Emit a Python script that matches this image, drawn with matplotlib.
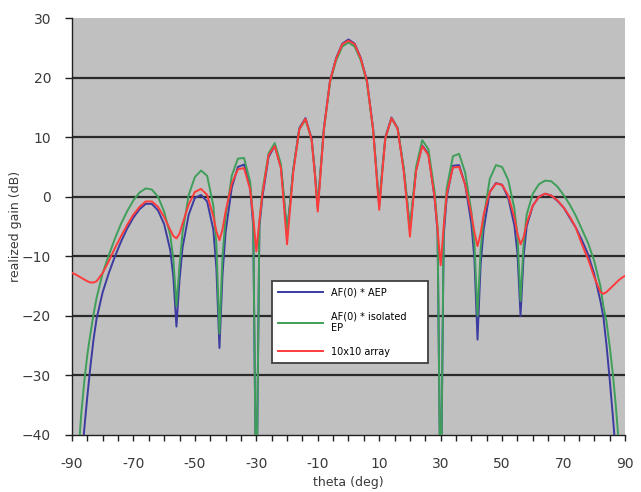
import matplotlib
matplotlib.use("Agg")
import matplotlib.pyplot as plt

# theta grid (deg), shared by all three curves
theta = [-90, -89, -88, -87, -86, -85, -84, -83, -82,
         -80, -78, -76, -74, -72, -70, -68, -66, -64, -62, -60, -58,
         -57, -56, -55, -54,
         -52, -50, -48, -46, -44,
         -43, -42, -41, -40,
         -38, -36, -34, -32,
         -31, -30, -29, -28,
         -26, -24, -22,
         -21, -20, -19, -18,
         -16, -14, -12,
         -11, -10, -9, -8,
         -6, -4, -2, 0, 2, 4, 6, 8,
         9, 10, 11, 12,
         14, 16, 18,
         19, 20, 21, 22,
         24, 26, 28,
         29, 30, 31, 32,
         34, 36, 38, 40,
         41, 42, 43, 44,
         46, 48, 50, 52, 54,
         55, 56, 57, 58,
         60, 62, 64, 66, 68, 70, 72, 74, 76, 78, 80, 82,
         83, 84, 85, 86, 87, 88, 89, 90]

# AF(0) * AEP
gain_aep = [-70, -62, -53, -45.5, -39, -33.5, -28.5, -24, -20.5,
            -16, -12.8, -10, -7.5, -5.3, -3.5, -2.1, -1.2, -1.2, -2.3, -4.6, -9,
            -13.5, -21.8, -14, -8.5,
            -3, -0.2, 0.3, -0.8, -5.5,
            -12, -25.4, -13, -6,
            1.5, 5.0, 5.4, 1.5,
            -5, -55, -5, 0,
            6.7, 8.5, 5,
            -0.5, -6, -1, 4.5,
            11.5, 13.2, 9.8,
            4.5, -1.8, 5, 11.5,
            19.5, 23.3, 25.7, 26.4, 25.7, 23.3, 19.5, 11.5,
            5, -1.5, 4.5, 10,
            13.3, 11.5, 4.5,
            -0.5, -5.5, -0.5, 4.5,
            8.6, 7.2, 0,
            -6, -55, -6.5, 0,
            5.2, 5.3, 2, -4.5,
            -10.5, -24, -11.5, -5.5,
            0.8, 2.3, 2.0, -0.2, -4.8,
            -9.5, -20, -10, -5,
            -1.5, 0, 0.5, 0.2, -0.7, -1.8, -3.5, -5.2, -7.3, -9.7, -13, -17.5,
            -20.3, -25, -30.5, -36.5, -43, -51, -60, -70]

# AF(0) * isolated EP
gain_iso = [-70, -55, -44, -36.5, -31, -26.5, -23, -19.8, -17,
            -12.8, -9.8, -7, -4.5, -2.4, -0.6, 0.7, 1.4, 1.2, 0, -2.5, -6.5,
            -10.5, -18.4, -11.5, -6,
            0.3, 3.3, 4.4, 3.5, -1.5,
            -8, -23, -10, -3.5,
            3.5, 6.4, 6.5, 2.5,
            -4, -55, -4.5, 1,
            7.3, 9.0, 5.5,
            0, -5.8, -1, 4.5,
            11.3, 12.9, 9.6,
            4.3, -1.6, 5, 11.3,
            19.2, 22.9, 25.2, 25.9, 25.2, 22.9, 19.2, 11.3,
            5, -1.3, 4.5, 9.8,
            13.1, 11.5, 4.8,
            0, -5.3, 0, 5,
            9.5, 8, 1,
            -5, -55, -5, 1.5,
            6.8, 7.2, 4, -2.5,
            -8, -20, -9, -3.5,
            3, 5.3, 5, 2.8, -2,
            -6.5, -17.5, -8, -3,
            0.5, 2.1, 2.7, 2.6, 1.7, 0.3, -1.3, -3.2, -5.5, -7.8, -10.8, -15,
            -18.5, -21, -25, -29.5, -35, -41.5, -50, -60]

# 10x10 array
gain_arr = [-12.8, -13.0, -13.3, -13.6, -13.9, -14.2, -14.4, -14.4, -14.2,
            -12.8, -10.8, -8.6, -6.6, -4.7, -3.0, -1.7, -0.8, -0.8, -1.7, -3.4, -5.6,
            -6.6, -7.0, -6.2, -4.5,
            -1.3, 0.8, 1.3, 0.3, -3.3,
            -5.8, -7.3, -5.5, -2.5,
            2.2, 4.6, 4.8, 1.2,
            -3.5, -9.2, -4, 0.5,
            7, 8.5, 4.8,
            -1.5, -8, -2, 4,
            11.3, 13.1, 9.6,
            4, -2.5, 4.5, 11.3,
            19.4, 23.2, 25.6, 26.2, 25.6, 23.2, 19.4, 11.3,
            4.5, -2.2, 4, 9.8,
            13.2, 11.4, 4.2,
            -1, -6.7, -1, 4.3,
            8.5, 7, 0,
            -5.5, -11.5, -5, 0.5,
            4.9, 5.0, 2, -3,
            -6, -8.3, -6.2, -3,
            0.8, 2.2, 2.0, 0.2, -3.5,
            -6.2, -8.0, -6.8, -4.5,
            -1.5, 0, 0.5, 0.2, -0.6, -1.8, -3.3, -5.2, -8, -10.5, -13.5, -16,
            -16.3, -16, -15.5, -15, -14.5, -14, -13.6, -13.3]

labels = ["AF(0) * AEP", "AF(0) * isolated\nEP", "10x10 array"]
colors = ["#3b3ba0", "#3f9f5a", "#ff3b3b"]

x_major = list(range(-90, 91, 5))
x_labeled = list(range(-90, 91, 20))
y_ticks = list(range(-40, 31, 10))

fig = plt.figure(figsize=(6.41, 4.92), dpi=100)
ax = fig.add_axes([0.1123, 0.1159, 0.8627, 0.8475])
ax.set_facecolor("#c0c0c0")

for y in range(-30, 21, 10):
    ax.axhline(y, color="#2a2a2a", lw=1.6, zorder=1)

for g, c, lab in zip([gain_aep, gain_iso, gain_arr], colors, labels):
    ax.plot(theta, g, color=c, lw=1.4, label=lab, zorder=3)

ax.set_xlim(-90, 90)
ax.set_ylim(-40, 30)
for s in ("top", "right"):
    ax.spines[s].set_visible(False)
for s in ("left", "bottom"):
    ax.spines[s].set_color("#202020")
    ax.spines[s].set_linewidth(1.0)

ax.set_xticks(x_major, [str(v) if v in x_labeled else "" for v in x_major])
ax.set_yticks(y_ticks)
ax.tick_params(axis="x", direction="out", length=4, width=1, color="#202020",
               pad=12, labelsize=10, labelcolor="#3a3a3a")
ax.tick_params(axis="y", direction="out", length=5, width=1, color="#202020",
               pad=10, labelsize=10, labelcolor="#3a3a3a")

ax.set_xlabel("theta (deg)", fontsize=9, color="#3a3a3a")
ax.xaxis.set_label_coords(0.5, -0.098)
ax.set_ylabel("realized gain (dB)", fontsize=9, color="#3a3a3a")
ax.yaxis.set_label_coords(-0.09, 0.5)

leg = ax.legend(loc="upper left", bbox_to_anchor=(0.416, 0.26, 0.26, 0.179),
                bbox_transform=fig.transFigure, mode="expand",
                fontsize=7, frameon=True, fancybox=False, edgecolor="#404040",
                framealpha=1, handlelength=4.6, labelspacing=1.4, borderpad=0.7)
leg.get_frame().set_linewidth(1.3)
leg.set_zorder(5)

fig.savefig("out.png", dpi=100)
